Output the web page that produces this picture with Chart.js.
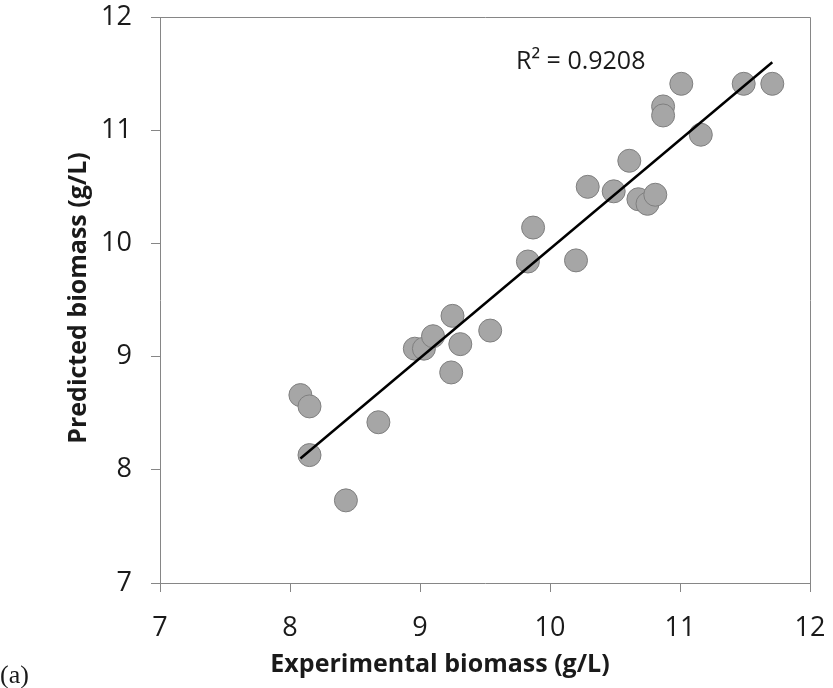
<!DOCTYPE html>
<html>
<head>
<meta charset="utf-8">
<title>Predicted vs experimental biomass</title>
<script src="https://cdn.jsdelivr.net/npm/chart.js@4.4.1/dist/chart.umd.min.js"></script>
<style>
  body { margin: 0; background: #ffffff; }
  #wrap { width: 833px; height: 688px; }
</style>
</head>
<body>
<div id="wrap"><canvas id="biomassChart" width="833" height="688"></canvas></div>
<script>
// Experimental vs predicted biomass (g/L), one entry per run
var experimental = [8.08, 8.15, 8.15, 8.43, 8.68, 8.96, 9.03, 9.10, 9.25, 9.31, 9.24, 9.54, 9.87, 9.83,
  10.20, 10.29, 10.49, 10.61, 10.68, 10.75, 10.81, 10.87, 10.87, 11.01, 11.16, 11.49, 11.71];
var predicted = [8.66, 8.56, 8.13, 7.73, 8.42, 9.07, 9.07, 9.18, 9.36, 9.11, 8.86, 9.23, 10.14, 9.84,
  9.85, 10.50, 10.46, 10.73, 10.39, 10.35, 10.43, 11.21, 11.13, 11.41, 10.96, 11.41, 11.41];

// Linear trendline end points and its R² label
var trendX = [8.08, 11.71];
var trendY = [8.10, 11.60];
var rSquared = '0.9208';

// Axis range and tick step (same for both axes)
var axisMin = 7;
var axisMax = 12;
var axisStep = 1;

var xTitle = 'Experimental biomass (g/L)';
var yTitle = 'Predicted biomass (g/L)';
var panelLabel = '(a)';

var axisGray = '#868686';
var textColor = '#1a1a1a';

function toPoints(xs, ys) {
  var pts = [];
  for (var i = 0; i < xs.length; i++) {
    pts.push({ x: xs[i], y: ys[i] });
  }
  return pts;
}

// Frame around the plot area plus the axis titles and labels
var textLayer = {
  id: 'textLayer',
  afterDraw: function (chart) {
    var ctx = chart.ctx;
    var area = chart.chartArea;
    ctx.save();

    ctx.strokeStyle = axisGray;
    ctx.lineWidth = 1;
    ctx.beginPath();
    ctx.moveTo(Math.round(area.left) + 0.5, Math.round(area.top) + 0.5);
    ctx.lineTo(Math.round(area.right) + 0.5, Math.round(area.top) + 0.5);
    ctx.lineTo(Math.round(area.right) + 0.5, Math.round(area.bottom) + 0.5);
    ctx.stroke();

    ctx.fillStyle = textColor;
    ctx.textBaseline = 'alphabetic';

    // y axis title, rotated
    ctx.save();
    ctx.translate(86, 298);
    ctx.rotate(-Math.PI / 2);
    ctx.font = 'bold 25px "Open Sans"';
    ctx.textAlign = 'center';
    ctx.fillText(yTitle, 0, 0);
    ctx.restore();

    // x axis title
    ctx.font = 'bold 25px "Open Sans"';
    ctx.textAlign = 'center';
    ctx.fillText(xTitle, 440, 672);

    // R² of the trendline
    ctx.font = '25px "Open Sans"';
    ctx.textAlign = 'left';
    ctx.fillText('R² = ' + rSquared, 516, 69);

    // panel letter
    ctx.font = '26px "Liberation Serif"';
    ctx.fillText(panelLabel, 0, 683);

    ctx.restore();
  }
};

var ctx = document.getElementById('biomassChart').getContext('2d');
var chart = new Chart(ctx, {
  type: 'scatter',
  data: {
    datasets: [{
      label: 'Trendline',
      type: 'line',
      data: toPoints(trendX, trendY),
      borderColor: '#000000',
      borderWidth: 2.5,
      pointRadius: 0,
      fill: false,
      order: 0
    }, {
      label: 'Biomass',
      data: toPoints(experimental, predicted),
      backgroundColor: '#a6a6a6',
      borderColor: '#7f7f7f',
      borderWidth: 1,
      pointRadius: 11.5,
      order: 1
    }]
  },
  options: {
    responsive: false,
    animation: false,
    layout: {
      padding: { left: 0, right: 23, top: 17, bottom: 0 }
    },
    plugins: {
      legend: { display: false },
      tooltip: { enabled: false }
    },
    scales: {
      x: {
        type: 'linear',
        min: axisMin,
        max: axisMax,
        border: { color: axisGray, width: 1 },
        grid: { drawOnChartArea: false, drawTicks: true, tickLength: 9, color: axisGray },
        ticks: {
          stepSize: axisStep,
          padding: 20,
          color: textColor,
          font: { family: '"Open Sans"', size: 27 }
        },
        // fixed band height, no extra room for the end labels
        afterFit: function (scale) {
          scale.height = 105;
          scale.paddingLeft = 0;
          scale.paddingRight = 0;
        }
      },
      y: {
        type: 'linear',
        min: axisMin,
        max: axisMax,
        border: { color: axisGray, width: 1 },
        grid: { drawOnChartArea: false, drawTicks: true, tickLength: 9, color: axisGray },
        ticks: {
          stepSize: axisStep,
          padding: 19,
          color: textColor,
          font: { family: '"Open Sans"', size: 27 }
        },
        afterFit: function (scale) {
          scale.width = 160;
          scale.paddingTop = 0;
          scale.paddingBottom = 0;
        }
      }
    }
  },
  plugins: [textLayer]
});
</script>
</body>
</html>
